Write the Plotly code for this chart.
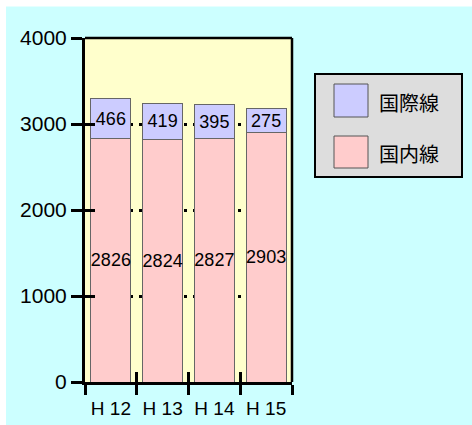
import plotly.graph_objects as go

categories = ["H 12", "H 13", "H 14", "H 15"]
domestic = [2826, 2824, 2827, 2903]
international = [466, 419, 395, 275]
series_names = ["国内線", "国際線"]
y_ticks = [0, 1000, 2000, 3000, 4000]

W, H = 472, 425
L, R, T, B = 85, 180, 38, 43
PW, PH = W - L - R, H - T - B

def px_x(p):
    return (p - L) / PW

def px_y(p):
    return (H - B - p) / PH

fig = go.Figure()
fig.add_trace(go.Bar(
    x=categories, y=domestic, name=series_names[0],
    marker=dict(color="#FFCCCC", line=dict(color="#666666", width=1)),
    text=[str(v) for v in domestic], textposition="inside",
    insidetextanchor="middle", textangle=0,
    textfont=dict(size=18, color="black", family="Liberation Sans, Arial"),
))
fig.add_trace(go.Bar(
    x=categories, y=international, name=series_names[1],
    marker=dict(color="#CCCCFF", line=dict(color="#666666", width=1)),
    text=[str(v) for v in international], textposition="inside",
    insidetextanchor="middle", textangle=0,
    textfont=dict(size=18, color="black", family="Liberation Sans, Arial"),
))

fig.update_layout(
    width=W, height=H,
    margin=dict(l=L, r=R, t=T, b=B, pad=0, autoexpand=False),
    barmode="stack", bargap=0.227,
    showlegend=False,
    paper_bgcolor="#CCFFFF", plot_bgcolor="#FFFFCC",
    font=dict(family="Liberation Sans, Arial", size=18, color="black"),
    uniformtext=dict(mode="show", minsize=18),
    xaxis=dict(
        type="category", categoryarray=categories, range=[-0.5, 3.5],
        tickson="boundaries", ticks="outside", ticklen=10, tickwidth=3,
        tickcolor="black", showline=True, linewidth=3, linecolor="black",
        showgrid=False, tickfont=dict(size=19), ticklabelstandoff=7,
        automargin=False,
    ),
    xaxis2=dict(
        overlaying="x", anchor="y", range=[-0.5, 3.5],
        tickmode="array", tickvals=[-0.5, 0.5, 1.5, 2.5, 3.5],
        ticks="inside", ticklen=10, tickwidth=3, tickcolor="black",
        showticklabels=False, showgrid=False, showline=False, zeroline=False,
        side="bottom", automargin=False,
    ),
    yaxis=dict(
        range=[0, 4000], tickmode="array", tickvals=y_ticks,
        ticks="outside", ticklen=11, tickwidth=3, tickcolor="black",
        showline=True, linewidth=3, linecolor="black",
        showgrid=True, gridcolor="black", gridwidth=2.5, griddash="3px,6px",
        zeroline=False, tickfont=dict(size=21), ticklabelstandoff=0,
        automargin=False,
    ),
    yaxis2=dict(
        overlaying="y", anchor="x", range=[0, 4000], tickmode="array",
        tickvals=y_ticks, ticks="inside", ticklen=10, tickwidth=3,
        tickcolor="black", showticklabels=False, showgrid=False,
        showline=False, zeroline=False, side="left", automargin=False,
    ),
)

# dummy invisible trace to activate overlay axes
fig.add_trace(go.Scatter(x=[0], y=[0], xaxis="x2", yaxis="y2",
                         mode="markers", marker=dict(opacity=0),
                         hoverinfo="skip", showlegend=False))

shapes = []
# white border top and left
shapes.append(dict(type="rect", xref="paper", yref="paper",
                   x0=px_x(-5), x1=px_x(W + 5), y0=px_y(-5), y1=px_y(6.5),
                   fillcolor="white", line=dict(width=0), layer="below"))
shapes.append(dict(type="rect", xref="paper", yref="paper",
                   x0=px_x(-5), x1=px_x(6), y0=px_y(-5), y1=px_y(H + 10),
                   fillcolor="white", line=dict(width=0), layer="below"))
# frame top and right
shapes.append(dict(type="line", xref="paper", yref="paper",
                   x0=0, x1=1, y0=1, y1=1, line=dict(color="black", width=2.5)))
shapes.append(dict(type="line", xref="paper", yref="paper",
                   x0=1, x1=1, y0=0, y1=1, line=dict(color="black", width=2.5)))
# legend box
shapes.append(dict(type="rect", xref="paper", yref="paper",
                   x0=px_x(315), x1=px_x(462), y0=px_y(177), y1=px_y(74),
                   fillcolor="#DDDDDD", line=dict(color="black", width=2)))
# legend swatches (international on top, domestic below)
legend_items = [(series_names[1], "#CCCCFF", 84, 117, 102),
                (series_names[0], "#FFCCCC", 136, 168, 153)]
annotations = []
for name, col, ya, yb, yc in legend_items:
    shapes.append(dict(type="rect", xref="paper", yref="paper",
                       x0=px_x(334), x1=px_x(368), y0=px_y(yb), y1=px_y(ya),
                       fillcolor=col, line=dict(color="#555555", width=1)))
    annotations.append(dict(xref="paper", yref="paper", x=px_x(377), y=px_y(yc),
                            text=name, showarrow=False, xanchor="left",
                            yanchor="middle",
                            font=dict(family="Noto Sans CJK JP", size=20,
                                      color="black")))
fig.update_layout(shapes=shapes, annotations=annotations)

fig.write_html("out.html")
